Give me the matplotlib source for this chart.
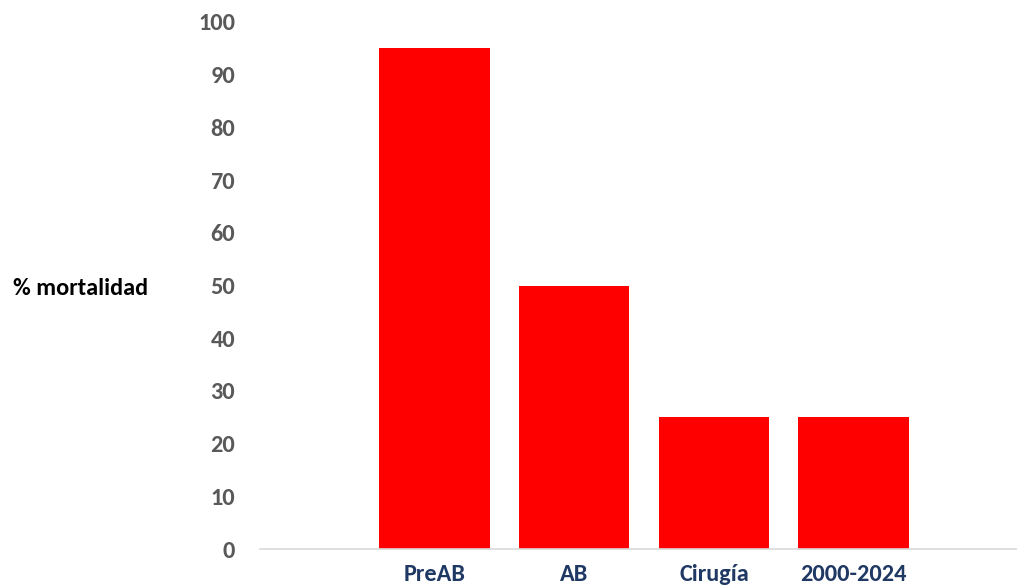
import numpy as np
import matplotlib.pyplot as plt

# data
categories = ["PreAB", "AB", "Cirugía", "2000-2024"]
mortality = [95, 50, 25, 25]
yticks = list(range(0, 101, 10))

plt.rcParams["font.family"] = ["Carlito", "Liberation Sans Narrow", "DejaVu Sans"]

fig = plt.figure(figsize=(10.17, 5.85), dpi=100)
ax = fig.add_axes([260 / 1017, 1 - 549 / 585, 757 / 1017, 527 / 585])

x = np.arange(len(categories))
ax.bar(x, mortality, width=0.79, color="#FF0000")

ax.set_xlim(-1.25, 4.17)
ax.set_ylim(0, 100)
ax.set_yticks(yticks)
ax.set_xticks(x, categories)

for s in ["top", "right", "left"]:
    ax.spines[s].set_visible(False)
ax.spines["bottom"].set_color("#D9D9D9")
ax.spines["bottom"].set_linewidth(1.2)

ax.tick_params(axis="y", length=0, pad=18, labelsize=17.5, labelcolor="#595959")
ax.tick_params(axis="x", length=0, pad=11, labelsize=17.5, labelcolor="#1F3864")
for lab in ax.get_xticklabels() + ax.get_yticklabels():
    lab.set_fontweight("bold")

ax.set_ylabel("% mortalidad", rotation=0, ha="left", va="center",
              fontsize=17.5, fontweight="bold", color="black")
ax.yaxis.set_label_coords(-0.326, 0.495)

fig.savefig("out.png", dpi=100)
